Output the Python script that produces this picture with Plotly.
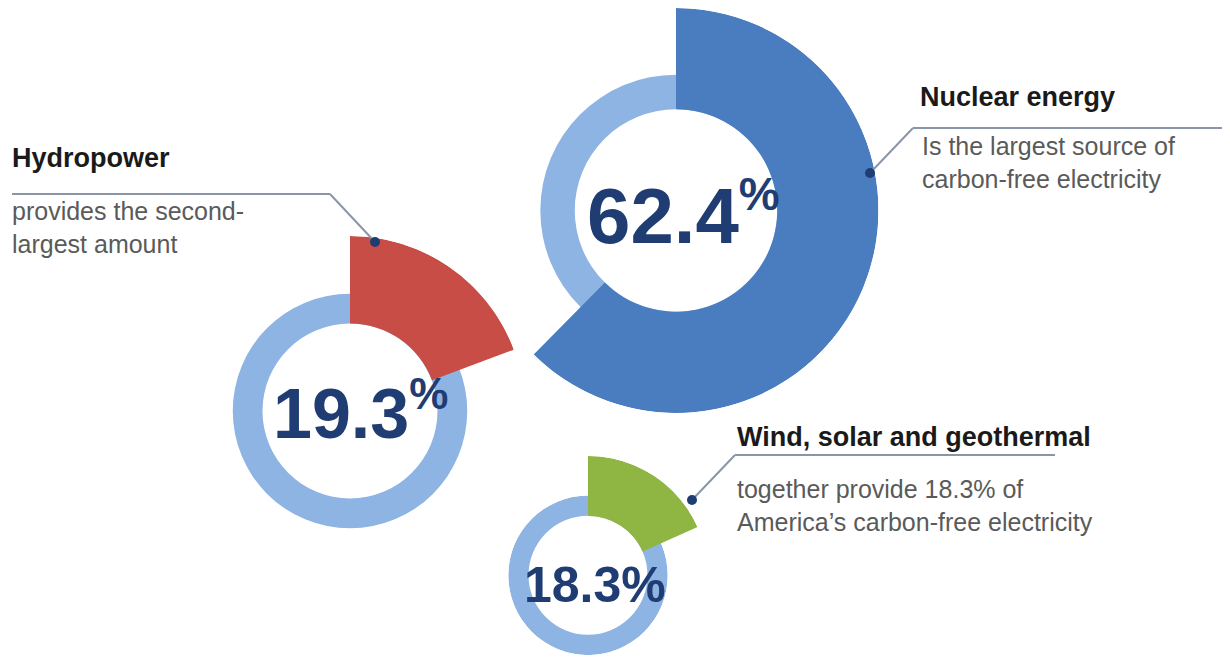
import plotly.graph_objects as go

# page body has an 8px margin; the figure is sized to fit inside the window
OFF = 8
W, H = 1230 - 2 * OFF, 663 - 2 * OFF

# ---- data ----
sources = ["Nuclear energy", "Hydropower", "Wind, solar and geothermal"]
shares = [62.4, 19.3, 18.3]
share_text = [
    "62.4<sup><span style='font-size:46px'>%</span></sup>",
    "19.3<sup><span style='font-size:44px'>%</span></sup>",
    "18.3%",
]
notes = [
    "Is the largest source of<br>carbon-free electricity",
    "provides the second-<br>largest amount",
    "together provide 18.3% of<br>America’s carbon-free electricity",
]

# ---- style ----
wedge_colors = ["#4a7dc0", "#c84d46", "#8fb542"]
ring_color = "#8db4e3"
navy = "#1f3d73"
grey_text = "#5a5a5a"
line_col = "#8a96a8"
INNER, RING, OUTER = 1.0, 1.34, 2.0
SANS = "Liberation Sans, Arial, sans-serif"

# donut centres and outer radii (reference px) – layout only
centres = [(676, 209, 204), (350, 411, 175), (588, 576, 120)]


def fx(px):
    return min(max((px - OFF) / W, 0), 1)


def fy(py):
    return min(max(1 - (py - OFF) / H, 0), 1)


def pdict(x0, x1, ytop, ybot, rmax, sector=None):
    d = dict(
        domain=dict(x=[fx(x0), fx(x1)], y=[fy(ybot), fy(ytop)]),
        bgcolor="rgba(0,0,0,0)",
        radialaxis=dict(visible=False, range=[0, rmax], showgrid=False),
        angularaxis=dict(visible=False, direction="clockwise", rotation=90,
                         showgrid=False),
    )
    if sector is not None:
        d["sector"] = sector
    return d


fig = go.Figure()
layout_polars = {}

# nuclear (polar) & hydro (polar2): full circles
for i in range(2):
    cx, cy, R = centres[i]
    name = "polar" if i == 0 else f"polar{i + 1}"
    layout_polars[name] = pdict(cx - R, cx + R, cy - R, cy + R, OUTER)
    fig.add_trace(go.Barpolar(r=[RING - INNER], base=[INNER], theta=[180], width=[360],
                              marker=dict(color=ring_color, line=dict(width=0)),
                              subplot=name, hoverinfo="skip", showlegend=False))
    fig.add_trace(go.Barpolar(r=[OUTER - INNER], base=[INNER],
                              theta=[shares[i] * 3.6 / 2], width=[shares[i] * 3.6],
                              marker=dict(color=wedge_colors[i], line=dict(width=0)),
                              subplot=name, name=sources[i], showlegend=False))

# wind: ring in polar3 (full circle), wedge in polar4 (quarter sector)
cx, cy, R = centres[2]
Rr = R * RING / OUTER
layout_polars["polar3"] = pdict(cx - Rr, cx + Rr, cy - Rr, cy + Rr, RING)
layout_polars["polar4"] = pdict(cx, cx + R, cy - R, cy, OUTER, sector=[0, 90])
fig.add_trace(go.Barpolar(r=[RING - INNER], base=[INNER], theta=[180], width=[360],
                          marker=dict(color=ring_color, line=dict(width=0)),
                          subplot="polar3", hoverinfo="skip", showlegend=False))
fig.add_trace(go.Barpolar(r=[OUTER - INNER], base=[INNER],
                          theta=[shares[2] * 3.6 / 2], width=[shares[2] * 3.6],
                          marker=dict(color=wedge_colors[2], line=dict(width=0)),
                          subplot="polar4", name=sources[2], showlegend=False))

fig.update_layout(**layout_polars)

# ---- leader lines and dots ----
leaders = [
    [(870, 173), (913, 128), (1230, 128)],
    [(375, 242), (330, 194), (12, 194)],
    [(692, 500), (735, 455), (1055, 455)],
]
shapes = []
for pts in leaders:
    for (x0, y0), (x1, y1) in zip(pts[:-1], pts[1:]):
        shapes.append(dict(type="line", xref="paper", yref="paper",
                           x0=fx(x0), y0=fy(y0), x1=fx(x1), y1=fy(y1),
                           line=dict(color=line_col, width=2)))
    dx, dy = pts[0]
    shapes.append(dict(type="circle", xref="paper", yref="paper",
                       x0=fx(dx - 5), x1=fx(dx + 5), y0=fy(dy + 5), y1=fy(dy - 5),
                       fillcolor=navy, line=dict(width=0)))

# ---- text ----
annotations = []
num_sizes = [78, 70, 50]
num_pos = [(683, 214), (360, 411), (595, 585)]
for i in range(3):
    x, y = num_pos[i]
    annotations.append(dict(text=f"<b>{share_text[i]}</b>", x=fx(x), y=fy(y),
                            xref="paper", yref="paper", showarrow=False,
                            xanchor="center", yanchor="middle",
                            font=dict(family=SANS, size=num_sizes[i], color=navy)))

title_pos = [(918, 97), (10, 158), (735, 437)]
note_pos = [(920, 162), (10, 227), (735, 505)]
for i in range(3):
    x, y = title_pos[i]
    annotations.append(dict(text=f"<b>{sources[i]}</b>", x=fx(x), y=fy(y),
                            xref="paper", yref="paper", showarrow=False,
                            xanchor="left", yanchor="middle",
                            font=dict(family=SANS, size=27, color="#1a1a1a")))
    x, y = note_pos[i]
    annotations.append(dict(text=notes[i], x=fx(x), y=fy(y), align="left",
                            xref="paper", yref="paper", showarrow=False,
                            xanchor="left", yanchor="middle",
                            font=dict(family=SANS, size=25, color=grey_text)))

fig.update_layout(
    width=W, height=H, margin=dict(l=0, r=0, t=0, b=0),
    paper_bgcolor="white", plot_bgcolor="white", template="none",
    showlegend=False, shapes=shapes, annotations=annotations,
)

fig.write_html("out.html")
